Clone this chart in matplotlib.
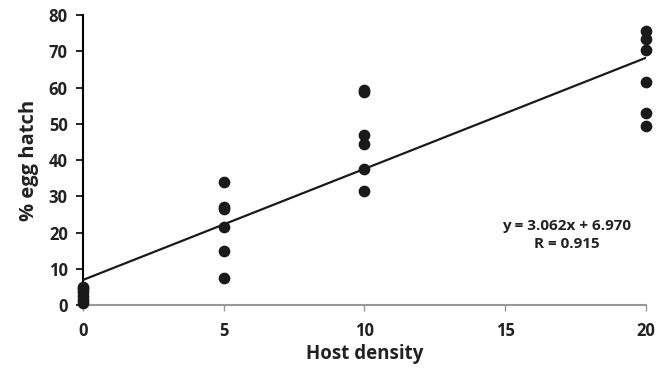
import matplotlib
matplotlib.use("Agg")
import matplotlib.pyplot as plt

# host density groups and % egg hatch
density = [0] * 6 + [5] * 6 + [10] * 6 + [20] * 6
hatch = [0.5, 1.5, 2.5, 3.5, 4.5, 5.0,
         7.5, 15.0, 21.5, 26.5, 27.0, 34.0,
         31.5, 37.5, 44.5, 47.0, 58.8, 59.4,
         49.5, 53.0, 61.5, 70.5, 73.5, 75.5]

slope, intercept = 3.062, 6.970
r_value = 0.915
x_ticks = [0, 5, 10, 15, 20]
y_ticks = [0, 10, 20, 30, 40, 50, 60, 70, 80]

plt.rcParams['font.family'] = ['Open Sans', 'DejaVu Sans']
plt.rcParams['font.weight'] = 'bold'

fig = plt.figure(figsize=(6.65, 3.69), dpi=100)
ax = fig.add_axes([0.125, 0.173, 0.846, 0.786])

line_x = [min(x_ticks), max(x_ticks)]
line_y = [slope * v + intercept for v in line_x]
ax.plot(line_x, line_y, color='#1a1a1a', lw=1.6, zorder=2)
ax.scatter(density, hatch, s=55, color='#1a1a1a', zorder=3, clip_on=False)

ax.set_xlim(0, 20)
ax.set_ylim(0, 80)
ax.set_xticks(x_ticks)
ax.set_yticks(y_ticks)

for side in ['top', 'right']:
    ax.spines[side].set_visible(False)
ax.spines['left'].set_color('black')
ax.spines['left'].set_linewidth(1.5)
ax.spines['bottom'].set_color('#999999')
ax.spines['bottom'].set_linewidth(1.5)
ax.spines['left'].set_zorder(1)

ax.tick_params(axis='y', direction='out', length=5, width=1.2, color='black',
               labelsize=12, pad=6)
ax.tick_params(axis='x', direction='out', length=4, width=1.0, color='#999999',
               labelsize=12, pad=8)
for lab in ax.get_xticklabels() + ax.get_yticklabels():
    lab.set_fontweight('bold')
    lab.set_color('#222222')

ax.set_xlabel('Host density', fontsize=13.5, fontweight='bold', labelpad=3,
              color='#222222')
ax.set_ylabel('% egg hatch', fontsize=14.5, fontweight='bold', labelpad=7,
              color='#222222')

ax.text(17.2, 21.8, 'y = %.3fx + %.3f' % (slope, intercept), ha='center',
        va='center', fontsize=11, fontweight='bold', color='#222222')
ax.text(17.2, 16.8, 'R = %.3f' % r_value, ha='center', va='center',
        fontsize=11, fontweight='bold', color='#222222')

fig.savefig('out.png', dpi=100)
